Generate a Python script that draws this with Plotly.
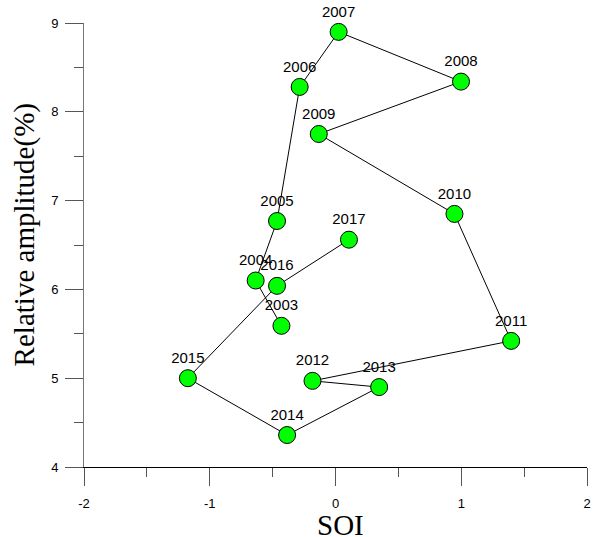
import plotly.graph_objects as go

years = ["2003", "2004", "2005", "2006", "2007", "2008", "2009", "2010",
         "2011", "2012", "2013", "2014", "2015", "2016", "2017"]
soi = [-0.43, -0.635, -0.465, -0.285, 0.025, 0.998, -0.133, 0.946,
       1.397, -0.183, 0.347, -0.385, -1.174, -0.465, 0.107]
amplitude = [5.59, 6.10, 6.77, 8.28, 8.90, 8.34, 7.75, 6.85,
             5.42, 4.97, 4.90, 4.36, 5.00, 6.04, 6.56]

x_ticks = [-2, -1, 0, 1, 2]
x_ticktext = ["-2", "-1", "0", "1", "2"]
y_ticks = [4, 5, 6, 7, 8, 9]

fig = go.Figure()
fig.add_trace(go.Scatter(
    x=soi, y=amplitude, text=years, mode="lines+markers+text",
    textposition="top center",
    textfont=dict(family="Arial, Liberation Sans", size=15, color="black"),
    line=dict(color="black", width=1),
    marker=dict(size=17, color="#00ff00", line=dict(color="black", width=1)),
    cliponaxis=False, showlegend=False, hoverinfo="skip",
))

fig.update_layout(
    width=594, height=537,
    margin=dict(l=84, r=7, t=23, b=70, autoexpand=False),
    plot_bgcolor="white", paper_bgcolor="white",
    font=dict(family="Arial, Liberation Sans", size=13, color="black"),
    xaxis=dict(
        range=[-2, 2], tickvals=x_ticks, ticktext=x_ticktext,
        showgrid=False, zeroline=False, showline=True, linecolor="black", linewidth=1,
        ticks="outside", ticklen=18, tickcolor="#555", tickwidth=1,
        minor=dict(dtick=0.5, ticks="outside", ticklen=9, tickcolor="#555", showgrid=False),
        ticklabelstandoff=6,
    ),
    yaxis=dict(
        range=[4, 9], tickvals=y_ticks,
        showgrid=False, zeroline=False, showline=True, linecolor="#777", linewidth=1,
        ticks="outside", ticklen=18, tickcolor="#555", tickwidth=1,
        minor=dict(dtick=0.5, ticks="outside", ticklen=9, tickcolor="#555", showgrid=False),
        ticklabelstandoff=4,
    ),
    annotations=[
        dict(text="SOI", xref="paper", yref="paper", x=0.509, y=-0.130,
             showarrow=False, xanchor="center", yanchor="middle",
             font=dict(family="Liberation Serif, Times New Roman", size=29, color="black")),
        dict(text="Relative amplitude(%)", xref="paper", yref="paper", x=-0.119, y=0.522,
             showarrow=False, xanchor="center", yanchor="middle", textangle=-90,
             font=dict(family="Liberation Serif, Times New Roman", size=29, color="black")),
    ],
)

fig.write_html("out.html", config={"displayModeBar": False},
               post_script="document.body.style.margin='0';")
